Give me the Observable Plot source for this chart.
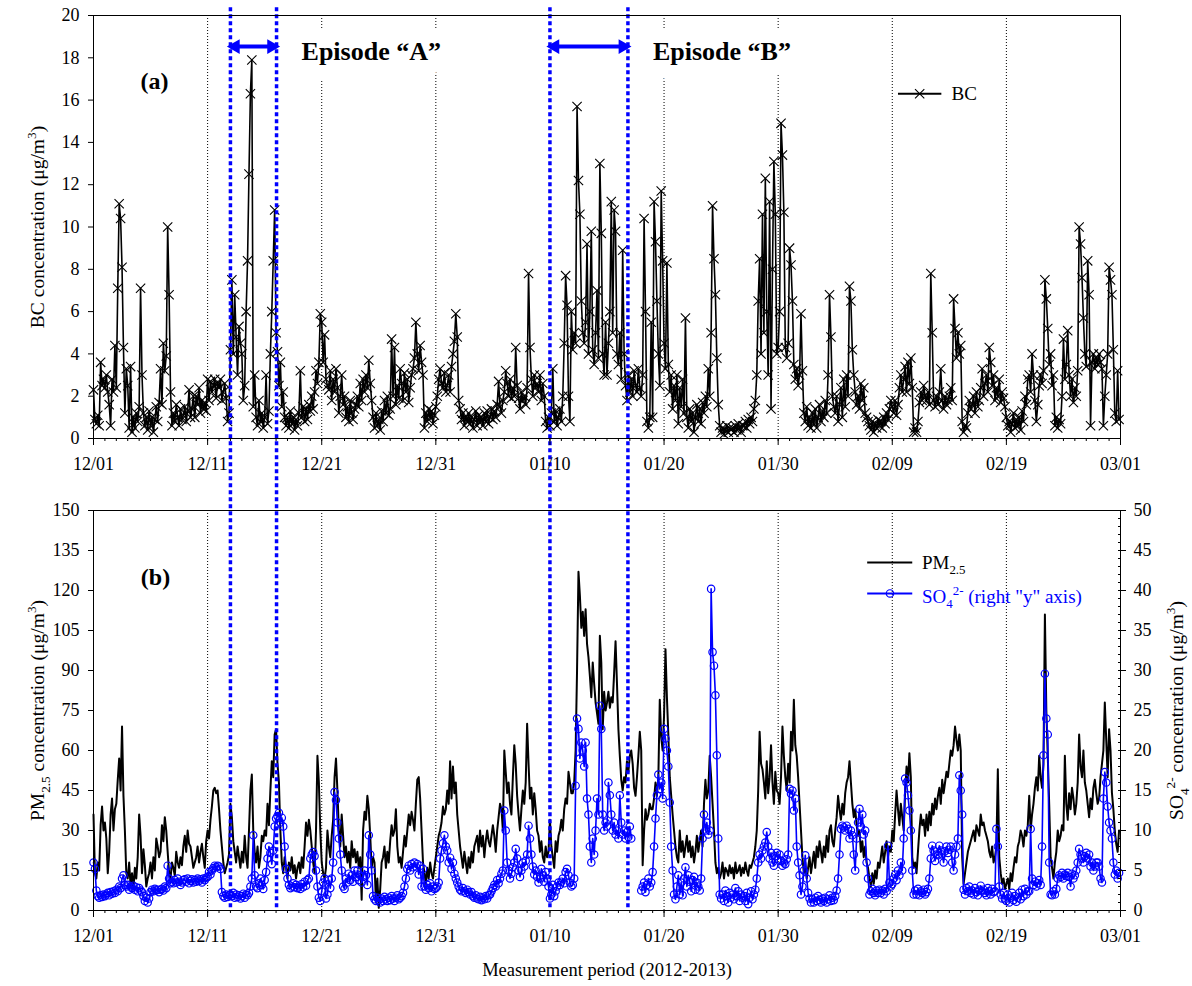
<!DOCTYPE html>
<html><head><meta charset="utf-8">
<script src="https://cdn.jsdelivr.net/npm/d3@7"></script>
<script src="https://cdn.jsdelivr.net/npm/@observablehq/plot@0.6"></script>
<style>
body{margin:0;background:#fff;}
#chart{position:relative;width:1192px;height:986px;background:#fff;}
#chart svg{position:absolute;left:0;overflow:visible;}
</style></head><body><div id="chart"></div>
<script>
// ---------- data ----------
const startDate = "2012-12-01";
const endDate = "2013-03-01";
const stepHours = 3; // one value every 3 h, 8 values per day (one line per day)
const xTickLabels = ["12/01","12/11","12/21","12/31","01/10","01/20","01/30","02/09","02/19","03/01"];
const gridLabels = ["12/11","12/21","12/31","01/20","01/30","02/09","02/19"];
const episodeNames = ["Episode \u201CA\u201D","Episode \u201CB\u201D"];
const episodeStarts = ["2012-12-13T00:00:00Z","2013-01-10T00:00:00Z"];
const episodeEnds = ["2012-12-17T01:00:00Z","2013-01-16T20:00:00Z"];
const bcTicks = [0,2,4,6,8,10,12,14,16,18,20];
const pmTicks = [0,15,30,45,60,75,90,105,120,135,150];
const so4Ticks = [0,5,10,15,20,25,30,35,40,45,50];

const bc = [
2.3,0.9,0.7,1.1,0.6,3.6,2.5,2.8,
2.4,3.0,2.2,1.6,0.6,2.8,2.2,4.4,
2.4,7.1,11.1,10.4,8.1,4.3,1.2,3.3,
2.5,0.5,3.4,0.3,1.0,0.5,1.2,0.8,
1.5,7.1,3.0,1.2,0.6,1.0,0.4,1.3,
0.6,1.0,0.3,0.9,1.5,0.8,1.7,3.3,
1.6,4.5,3.2,3.9,10.0,6.8,2.2,0.6,
1.2,0.8,1.6,1.0,0.6,1.4,0.9,1.1,
1.5,0.8,1.3,2.3,1.0,1.4,2.0,1.0,
2.0,1.6,2.4,1.2,1.8,1.4,1.7,1.3,
2.8,1.8,2.7,2.2,2.5,2.8,1.9,2.6,
2.4,2.8,1.8,2.2,2.6,1.9,0.8,1.2,
4.2,7.5,4.0,6.8,4.8,3.0,5.3,4.5,
4.0,1.8,2.5,6.0,8.4,12.5,16.3,17.9,
1.5,3.0,1.0,0.6,1.8,0.8,1.2,0.5,
1.0,3.0,0.7,1.3,4.0,6.0,8.4,10.8,
5.0,4.1,2.5,3.6,1.5,2.2,1.0,0.6,
1.0,0.5,1.3,0.7,1.0,0.4,0.9,0.6,
1.2,3.2,1.0,1.5,0.8,1.4,0.9,1.6,
1.3,2.0,1.4,2.2,3.2,2.6,3.6,5.9,
5.5,3.6,4.9,2.8,2.5,2.3,3.2,1.8,
2.8,2.2,3.3,2.4,1.2,2.0,3.0,1.6,
2.0,1.0,1.5,0.8,1.8,1.2,0.9,1.4,
1.6,2.0,1.5,2.6,1.8,2.8,2.2,3.0,
2.4,3.7,2.6,1.8,1.0,0.5,1.2,0.6,
0.9,0.4,1.3,0.8,1.8,1.2,2.0,1.1,
1.4,4.7,2.0,4.3,1.6,2.5,1.9,3.3,
2.6,1.8,3.1,2.2,2.8,1.7,2.4,3.0,
3.3,3.8,5.5,4.0,3.2,4.4,3.6,3.0,
0.5,1.2,0.8,1.4,1.0,1.3,0.7,1.1,
1.5,2.0,2.8,3.3,2.6,2.4,3.1,2.2,
2.5,3.0,2.2,3.4,4.0,4.6,5.9,4.8,
1.8,1.4,0.9,1.2,0.6,1.0,0.8,1.2,
0.7,1.0,0.5,0.9,1.3,0.6,1.1,0.8,
1.0,0.6,1.2,0.8,1.3,0.7,1.0,1.4,
0.9,1.3,1.0,1.6,2.7,1.5,1.2,1.8,
2.2,3.2,2.6,2.0,2.8,1.9,2.4,2.0,
4.3,2.5,1.9,1.4,2.2,1.8,2.0,1.6,
2.4,7.8,4.3,2.8,2.0,3.0,2.4,2.6,
2.2,3.0,1.8,2.6,2.0,0.8,0.5,1.0,
0.6,1.2,3.3,0.8,1.3,0.6,1.0,1.4,
0.8,2.0,4.5,7.7,6.3,2.0,0.8,6.0,
4.2,5.0,4.5,15.7,12.2,10.6,6.5,5.0,
4.5,5.5,9.2,4.0,6.0,9.8,4.2,3.5,
5.0,7.0,3.8,13.0,9.7,4.0,3.0,5.5,
3.0,4.5,6.0,11.2,5.0,10.8,9.8,4.0,
3.5,5.0,2.8,8.9,4.0,2.5,1.8,3.0,
2.2,2.8,2.0,3.2,2.5,2.2,3.3,2.4,
2.0,3.0,10.4,6.0,0.8,0.5,1.0,5.5,
1.0,11.2,9.3,6.5,4.0,2.5,11.7,8.4,
4.5,3.3,8.3,3.5,2.2,3.0,1.4,2.5,
1.8,3.0,0.7,2.4,1.5,2.8,1.2,5.7,
1.0,0.5,1.4,0.8,1.2,0.3,1.0,1.6,
0.8,1.4,0.7,1.7,1.2,2.0,1.5,3.3,
2.0,5.0,11.0,8.5,6.8,3.8,1.6,0.6,
0.3,0.5,0.2,0.4,0.6,0.3,0.5,0.4,
0.5,0.3,0.6,0.4,0.7,0.5,0.3,0.6,
0.6,0.8,0.5,0.9,0.7,1.0,0.8,1.4,
1.8,3.0,6.5,8.5,4.0,10.6,5.0,12.3,
6.0,3.0,11.2,1.4,8.0,13.1,10.6,4.0,
4.3,6.0,14.9,13.4,10.7,4.3,3.8,4.5,
9.0,8.2,6.5,3.5,2.8,3.3,2.5,3.0,
5.9,3.2,1.2,0.8,1.5,0.6,1.0,0.5,
1.2,0.7,1.4,0.5,1.0,1.6,0.8,1.3,
1.0,1.8,1.2,3.0,6.8,4.8,2.0,1.5,
1.2,2.0,0.8,1.6,2.4,1.0,2.8,1.5,
3.0,2.0,7.2,6.5,4.2,3.0,2.2,1.6,
2.0,1.4,2.6,1.8,2.4,1.2,1.0,0.8,
0.6,0.4,0.8,0.3,0.7,0.5,0.9,0.6,
0.8,0.5,1.0,0.7,1.2,0.9,1.4,1.8,
1.5,1.2,1.8,1.1,1.6,2.4,3.0,2.2,
2.8,3.4,2.2,3.6,2.6,3.8,2.4,0.3,
0.5,0.3,0.8,1.7,2.2,1.8,2.5,2.0,
1.8,2.2,1.6,7.8,5.0,1.8,1.5,2.0,
1.6,2.2,3.3,1.8,1.4,2.0,1.6,1.8,
2.0,2.4,1.8,6.6,5.2,3.8,5.0,4.0,
4.4,0.8,0.3,0.6,0.5,1.2,1.8,1.4,
1.6,2.0,1.2,2.2,1.5,1.8,2.4,3.3,
2.0,2.6,3.0,2.2,4.3,3.6,2.5,3.0,
1.8,2.4,2.0,2.8,1.7,2.2,1.9,1.5,
1.0,0.6,0.8,0.3,0.7,1.2,0.5,0.9,
0.6,1.0,0.4,1.3,0.8,2.0,1.6,2.8,
3.0,2.2,4.0,3.0,1.8,0.8,1.6,2.5,
3.0,2.6,3.2,7.5,6.6,5.2,3.5,4.0,
2.5,3.0,0.6,1.0,0.5,0.9,0.7,2.0,
4.7,2.8,3.5,5.1,3.0,2.0,2.8,1.7,
2.4,2.0,3.2,10.0,9.2,7.6,5.7,4.0,
3.4,8.4,6.8,0.6,3.6,4.0,3.3,3.8,
3.5,4.0,3.6,3.3,0.6,2.0,3.0,4.0,
8.1,7.5,6.8,4.2,1.2,0.8,3.2,0.9
];

const pm25 = [
36,14,12,18,15,32,39,30,
33,27,14,22,36,42,30,38,
40,49,57,45,69,43,30,14,
12,18,9,14,8,16,12,20,
36,28,14,23,17,9,12,14,
18,12,20,15,27,24,20,22,
32,26,35,30,22,14,12,18,
16,13,22,18,16,20,17,24,
28,22,30,25,24,20,16,18,
20,24,18,22,25,20,16,26,
30,27,34,39,45,46,44,45,
38,30,24,18,14,16,18,21,
40,35,26,22,18,24,20,16,
22,18,28,20,16,30,45,51,
30,22,18,24,16,20,28,26,
30,28,40,32,45,56,50,66,
68,55,48,30,18,14,20,16,
12,18,15,20,14,17,12,16,
18,14,20,16,24,33,28,34,
30,24,18,14,30,58,48,30,
18,14,12,16,30,24,20,28,
34,50,57,45,30,24,36,28,
20,24,18,22,16,26,20,23,
18,22,16,20,4,30,37,34,
43,38,28,16,20,18,3,12,
1,8,18,20,24,16,22,18,
26,32,28,30,38,24,18,20,
16,22,28,24,30,36,32,37,
34,30,40,49,50,42,30,18,
14,10,16,12,18,14,12,16,
20,24,28,30,33,39,36,38,
45,40,56,42,54,44,48,36,
30,24,20,16,22,18,14,20,
16,22,18,24,26,28,22,30,
24,28,20,26,30,26,24,28,
32,28,22,30,35,40,38,30,
60,52,44,48,40,36,50,62,
55,43,36,30,38,45,40,48,
70,55,42,46,36,44,38,30,
28,22,26,20,18,24,20,22,
34,24,20,16,26,22,28,30,
34,30,38,42,40,52,48,44,
44,48,60,90,127,118,106,112,
103,113,100,95,88,80,93,85,
78,74,70,103,93,68,82,75,
78,82,76,80,78,89,101,85,
68,58,49,45,50,48,56,52,
58,60,55,46,43,50,58,67,
60,17,30,38,34,36,40,38,
38,42,48,43,50,79,65,60,
73,98,80,66,50,43,36,30,
24,20,18,30,22,26,20,24,
28,22,26,20,24,18,22,28,
22,26,30,24,40,49,42,45,
58,50,40,30,18,14,16,12,
14,18,12,16,15,13,17,14,
16,12,18,14,15,17,13,16,
14,18,15,13,17,16,18,20,
24,30,45,67,55,53,48,42,
56,44,50,62,48,40,52,45,
44,40,50,69,58,50,45,55,
48,67,60,79,62,58,50,40,
30,20,14,18,12,16,20,14,
18,22,16,24,20,26,22,18,
24,20,28,22,30,32,26,24,
30,35,43,38,34,40,36,44,
48,50,56,48,40,35,38,32,
28,30,22,26,20,24,18,16,
12,9,14,10,15,12,18,16,
20,24,18,22,26,20,24,22,
30,26,36,45,38,32,40,35,
30,44,54,48,59,50,20,16,
18,14,22,30,36,32,34,28,
36,30,37,32,40,36,42,38,
43,46,40,49,44,48,52,50,
55,60,58,62,69,64,60,66,
60,20,10,14,18,22,24,26,
28,30,26,32,30,28,36,32,
33,30,28,26,22,20,24,18,
20,24,53,20,14,10,12,8,
10,12,8,14,11,16,20,18,
24,26,30,28,24,30,28,32,
43,30,36,40,46,50,45,58,
50,46,55,111,75,58,40,20,
16,12,18,22,30,26,28,32,
30,58,40,34,44,38,46,42,
36,40,48,66,54,50,60,48,
45,40,35,42,38,46,49,44,
40,42,50,55,60,78,64,50,
68,60,44,38,30,25,22,30
];

const so4 = [
6.0,5.2,2.5,1.8,1.6,1.9,1.7,2.0,
1.8,2.0,2.2,1.9,2.3,2.1,2.4,2.2,
2.6,2.4,3.0,2.8,4.0,4.4,3.2,3.0,
3.2,2.6,3.0,2.8,3.1,2.6,2.9,2.4,
2.8,2.5,2.3,1.8,1.2,1.6,1.0,1.5,
2.3,2.6,2.4,2.7,2.5,2.6,2.3,2.6,
2.7,2.5,3.0,2.8,5.6,4.0,3.4,3.6,
3.4,3.8,3.5,4.0,3.6,3.2,3.5,3.8,
3.9,3.6,4.0,3.4,3.7,3.9,3.5,3.8,
3.6,4.0,3.7,3.9,3.5,4.0,3.8,4.1,
4.2,4.8,4.5,5.0,5.3,5.6,5.4,5.6,
5.5,5.2,2.3,1.8,1.6,2.0,1.7,1.9,
2.0,1.8,2.2,1.6,2.0,1.7,1.9,1.5,
1.8,2.1,1.6,2.0,1.9,2.2,3.0,4.0,
9.4,4.4,3.0,2.8,3.4,4.0,3.2,2.7,
3.8,4.8,6.5,8.0,7.2,5.8,7.5,10.5,
11.5,11.8,12.2,11.0,11.6,10.5,8.0,5.2,
4.0,3.2,2.8,3.0,3.4,2.9,3.2,2.8,
3.0,2.7,3.3,2.9,3.6,3.1,3.8,4.0,
6.5,7.0,7.3,6.8,5.0,3.0,1.6,1.2,
2.4,3.5,4.0,1.5,2.0,3.8,2.8,4.0,
6.0,14.8,13.8,11.0,9.0,7.0,5.0,3.0,
2.7,4.0,3.5,4.6,3.8,4.4,3.6,5.0,
4.2,5.0,3.8,4.4,3.5,4.2,5.0,4.4,
3.2,9.4,7.0,5.0,1.8,1.4,1.2,1.6,
1.3,1.0,1.5,1.2,1.7,1.4,1.2,1.6,
1.3,1.8,1.5,1.2,1.6,1.9,1.4,1.6,
1.8,2.2,3.0,4.0,5.2,5.6,5.0,5.8,
5.4,6.0,5.5,5.8,4.5,5.6,3.0,5.2,
3.0,2.6,3.2,2.8,3.4,2.4,3.0,2.7,
2.8,3.0,3.5,6.5,7.5,8.4,9.4,8.0,
7.5,6.0,6.6,5.2,6.0,4.6,4.0,3.5,
3.0,2.6,2.4,2.8,2.4,2.2,2.6,2.3,
2.0,2.3,1.8,1.6,1.9,1.5,1.4,1.7,
1.3,1.6,1.4,1.8,1.5,1.9,2.0,2.4,
2.8,3.2,3.0,3.8,3.4,4.0,4.6,5.0,
12.5,10.0,6.0,5.0,4.0,4.6,5.4,6.0,
7.7,6.5,5.0,4.2,5.0,6.0,5.5,6.2,
7.0,10.6,9.0,7.0,5.5,4.5,5.0,4.2,
3.5,4.0,5.2,4.4,3.6,4.8,4.0,3.0,
1.5,2.0,3.2,1.8,2.4,3.0,3.5,3.2,
3.6,4.0,3.4,4.8,5.2,4.4,3.5,3.0,
3.2,4.0,15.6,24.0,22.7,19.0,21.0,20.0,
18.0,21.0,14.0,12.0,8.0,6.0,9.0,7.0,
10.0,14.0,12.0,25.6,22.7,12.0,10.0,11.0,
10.5,16.0,14.4,12.0,10.0,11.0,9.5,10.0,
9.0,14.4,11.0,9.5,10.0,9.0,9.8,9.2,
10.5,9.0,null,null,null,null,null,null,
2.5,3.0,3.5,2.3,3.2,4.0,3.0,3.5,
4.8,8.0,11.5,14.4,17.0,15.2,16.0,14.0,
22.7,21.5,20.0,18.0,13.5,8.0,5.0,2.0,
1.4,3.0,4.4,2.0,3.5,1.9,4.0,5.4,
3.0,4.4,3.6,2.4,3.8,4.2,2.6,3.5,
3.0,2.5,4.0,9.0,12.0,10.0,11.0,9.5,
10.0,40.2,32.3,30.6,26.9,19.4,9.0,2.0,
1.5,2.0,1.2,2.5,1.8,1.0,2.2,1.6,
2.0,1.4,2.8,1.8,2.4,1.2,2.0,1.6,
1.8,1.2,2.2,0.8,1.6,2.4,1.4,2.0,
2.6,4.0,6.0,7.0,6.5,7.5,8.0,8.5,
9.8,8.0,6.5,7.2,6.0,5.6,6.8,7.2,
6.4,7.0,6.2,5.6,6.0,5.8,6.4,7.0,
15.2,14.6,15.0,12.5,14.0,8.0,6.0,4.4,
2.0,3.0,5.0,6.9,4.0,2.2,1.5,1.0,
1.4,1.0,1.6,1.2,1.8,1.3,1.0,1.5,
1.2,1.6,1.0,1.4,1.9,1.2,1.6,1.3,
1.8,2.5,4.0,7.0,10.2,10.6,10.4,10.0,
10.6,10.2,9.0,10.0,9.4,7.0,5.0,9.0,
11.0,12.7,10.5,12.0,9.5,10.0,6.0,4.0,
2.0,2.4,2.7,2.2,1.9,2.5,2.2,2.6,
2.2,2.5,2.0,2.7,2.4,8.1,3.5,3.0,
3.3,4.0,4.5,3.8,5.0,4.4,6.0,5.0,
9.0,16.5,16.0,14.4,12.5,10.0,5.0,2.0,
2.5,2.0,2.7,1.9,2.4,2.2,2.6,2.0,
2.3,2.7,4.0,6.5,8.1,7.5,6.2,7.0,
6.9,8.1,7.5,7.0,6.0,7.4,8.0,7.2,
7.6,8.0,6.0,5.0,7.0,8.0,9.0,16.9,
15.0,12.0,2.6,2.0,2.8,2.4,3.0,2.2,
2.5,2.0,2.8,2.3,1.9,2.6,3.1,2.4,
2.6,2.2,1.9,2.8,2.4,2.0,2.7,2.3,
2.4,10.2,8.0,3.0,2.0,1.5,2.2,1.4,
1.2,2.0,1.0,1.6,2.2,1.3,1.8,1.1,
1.6,2.2,1.4,2.6,1.8,2.7,2.0,2.4,
2.4,10.2,4.0,3.2,3.6,3.0,3.4,3.8,
3.2,8.0,19.4,29.6,24.0,22.0,6.0,2.0,
1.9,2.4,2.0,2.7,4.0,4.4,4.2,4.7,
4.0,4.5,4.3,4.7,4.2,3.0,4.6,4.0,
4.4,5.0,6.0,7.7,7.0,6.5,6.0,6.8,
7.2,6.5,7.0,5.5,6.0,5.0,5.5,6.0,
6.0,5.5,4.0,3.5,14.0,17.3,16.0,13.0,
11.0,10.0,9.0,6.0,4.5,5.0,4.0,4.7
];

// ---------- build ----------
const FONT = "'Liberation Serif','Times New Roman',Times,serif";
const BLUE = "#0000ff";
const TITLE_FS = 19.5;
const t0 = Date.parse(startDate + "T00:00:00Z");
const t1 = Date.parse(endDate + "T00:00:00Z");
const timeAt = i => new Date(t0 + i * stepHours * 3600e3);
function parseLabel(s) {
  const [m, d] = s.split("/").map(Number);
  const y = m >= 12 ? 2012 : 2013;
  return new Date(Date.UTC(y, m - 1, d));
}
const majorDates = xTickLabels.map(parseLabel);
const labelMap = new Map(majorDates.map((d, i) => [+d, xTickLabels[i]]));
const gridDates = gridLabels.map(parseLabel);
const dayTicks = d3.utcDay.range(new Date(t0), new Date(t1 + 864e5));
const episodes = episodeNames.map((name, i) => ({name, start: new Date(episodeStarts[i]), end: new Date(episodeEnds[i])}));
const episodeBounds = episodes.flatMap(e => [e.start, e.end]);
const ratio = pmTicks[pmTicks.length - 1] / so4Ticks[so4Ticks.length - 1];

const bcData = bc.map((v, i) => ({t: timeAt(i), v}));
const pmData = pm25.map((v, i) => ({t: timeAt(i), v}));
const so4Data = so4.map((v, i) => ({t: timeAt(i), v: v == null ? null : v * ratio}));

const dayOff = d => new Date(t0 + d * 864e5);
const plotStyle = {fontFamily: FONT, fontSize: "18px", background: "white", overflow: "visible", color: "black"};

function xAxes() {
  return [
    Plot.axisX({ticks: dayTicks, tickSize: 3, tickFormat: () => "", label: null}),
    Plot.axisX({ticks: majorDates, tickSize: 7, tickPadding: 12, tickFormat: d => labelMap.get(+d), label: null, fontSize: 18})
  ];
}

const bcTitle = "BC concentration (\u03BCg/m3)";
const pmTitle = "PM2.5 concentration (\u03BCg/m3)";
const so4Title = "SO42- concentration (\u03BCg/m3)";
const pmLegend = "PM2.5";
const so4Legend = "SO42- (right \"y\" axis)";

const topPlot = Plot.plot({
  width: 1192, height: 480,
  marginLeft: 93, marginRight: 72, marginTop: 15, marginBottom: 42,
  style: plotStyle,
  x: {type: "utc", domain: [new Date(t0), new Date(t1)]},
  y: {domain: [0, 20]},
  marks: [
    Plot.ruleX(gridDates, {stroke: "black", strokeWidth: 1, strokeDasharray: "1,2"}),
    Plot.line(bcData, {x: "t", y: "v", stroke: "black", strokeWidth: 1.6}),
    Plot.dot(bcData, {x: "t", y: "v", symbol: "times", r: 4.3, stroke: "black", strokeWidth: 1.1}),
    Plot.text(episodes, {x: "end", y: 18.3, text: "name", dx: 25, textAnchor: "start", fontSize: 26, fontWeight: "bold", fill: "black", stroke: "white", strokeWidth: 30, strokeLinejoin: "round", paintOrder: "stroke"}),
    Plot.link(episodes, {x1: "start", x2: "end", y1: 18.53, y2: 18.53, stroke: BLUE, strokeWidth: 4}),
    Plot.dot(episodes, {x: "end", y: 18.53, symbol: "triangle", rotate: 90, r: 5.5, fill: BLUE, stroke: "none", dx: -5}),
    Plot.dot(episodes, {x: "start", y: 18.53, symbol: "triangle", rotate: -90, r: 5.5, fill: BLUE, stroke: "none", dx: 5}),
    Plot.ruleX(episodeBounds, {y1: -2, y2: 20.43, stroke: BLUE, strokeWidth: 3.5, strokeDasharray: "4,3"}),
    Plot.frame({stroke: "black", strokeWidth: 1}),
    ...xAxes(),
    Plot.axisY({ticks: bcTicks, tickSize: 5, tickPadding: 9, label: null, fontSize: 18}),
    Plot.text(["(a)"], {frameAnchor: "top-left", dx: 61, dy: 66, textAnchor: "middle", lineAnchor: "middle", fontSize: 24, fontWeight: "bold"}),
    Plot.link([0], {x1: dayOff(70.5), x2: dayOff(74.3), y1: 16.3, y2: 16.3, stroke: "black", strokeWidth: 2}),
    Plot.dot([0], {x: dayOff(72.4), y: 16.3, symbol: "times", r: 4.3, stroke: "black", strokeWidth: 1.1}),
    Plot.text(["BC"], {x: dayOff(75.2), y: 16.3, textAnchor: "start", fontSize: 19}),
    Plot.text([bcTitle], {frameAnchor: "left", dx: -56, rotate: -90, textAnchor: "middle", lineAnchor: "middle", fontSize: TITLE_FS})
  ]
});

const bottomPlot = Plot.plot({
  width: 1192, height: 506,
  marginLeft: 93, marginRight: 72, marginTop: 30, marginBottom: 76,
  style: plotStyle,
  x: {type: "utc", domain: [new Date(t0), new Date(t1)]},
  y: {domain: [0, 150]},
  marks: [
    Plot.ruleX(gridDates, {stroke: "black", strokeWidth: 1, strokeDasharray: "1,2"}),
    Plot.line(pmData, {x: "t", y: "v", stroke: "black", strokeWidth: 2}),
    Plot.line(so4Data, {x: "t", y: "v", stroke: BLUE, strokeWidth: 1.6}),
    Plot.dot(so4Data, {x: "t", y: "v", r: 3.7, stroke: BLUE, fill: "none", strokeWidth: 1.2}),
    Plot.ruleX(episodeBounds, {y1: 1, y2: 161.3, stroke: BLUE, strokeWidth: 3.5, strokeDasharray: "4,3"}),
    Plot.frame({stroke: "black", strokeWidth: 1}),
    ...xAxes(),
    Plot.axisY({ticks: pmTicks, tickSize: 5, tickPadding: 9, label: null, fontSize: 18}),
    Plot.axisY({anchor: "right", ticks: d3.range(0, 151, ratio), tickSize: -3, tickFormat: () => "", label: null}),
    Plot.axisY({anchor: "right", ticks: so4Ticks.map(v => v * ratio), tickSize: 5, tickPadding: 8, tickFormat: d => String(Math.round(d / ratio)), label: null, fontSize: 18}),
    Plot.text(["(b)"], {frameAnchor: "top-left", dx: 62, dy: 67, textAnchor: "middle", lineAnchor: "middle", fontSize: 24, fontWeight: "bold"}),
    Plot.link([0], {x1: dayOff(67.8), x2: dayOff(71.75), y1: 130.5, y2: 130.5, stroke: "black", strokeWidth: 2}),
    Plot.text([pmLegend], {x: dayOff(72.6), y: 130.5, textAnchor: "start", fontSize: 19}),
    Plot.link([0], {x1: dayOff(67.8), x2: dayOff(71.75), y1: 118.9, y2: 118.9, stroke: BLUE, strokeWidth: 2}),
    Plot.dot([0], {x: dayOff(69.8), y: 118.9, r: 3.7, stroke: BLUE, fill: "none", strokeWidth: 1.2}),
    Plot.text([so4Legend], {x: dayOff(72.6), y: 118.9, dy: 3, textAnchor: "start", fontSize: 19, fill: BLUE}),
    Plot.text([pmTitle], {frameAnchor: "left", dx: -56, rotate: -90, textAnchor: "middle", lineAnchor: "middle", fontSize: TITLE_FS}),
    Plot.text([so4Title], {frameAnchor: "right", dx: 56, rotate: -90, textAnchor: "middle", lineAnchor: "middle", fontSize: TITLE_FS}),
    Plot.text(["Measurement period (2012-2013)"], {frameAnchor: "bottom", dy: 60, textAnchor: "middle", lineAnchor: "middle", fontSize: 18.5})
  ]
});

topPlot.style.top = "0px";
bottomPlot.style.top = "480px";
const chartEl = document.getElementById("chart");
chartEl.appendChild(topPlot);
chartEl.appendChild(bottomPlot);

// sub/superscripts in real text
function rich(svg, plain, parts, fs) {
  svg.querySelectorAll("text").forEach(t => {
    if (t.textContent !== plain) return;
    while (t.firstChild) t.removeChild(t.firstChild);
    let shift = 0;
    for (const [str, kind] of parts) {
      const ts = document.createElementNS("http://www.w3.org/2000/svg", "tspan");
      const target = kind === "sub" ? 0.3 * fs : kind === "sup" ? -0.42 * fs : 0;
      ts.setAttribute("dy", target - shift);
      shift = target;
      if (kind) ts.setAttribute("font-size", fs * 0.68);
      ts.textContent = str;
      t.appendChild(ts);
    }
  });
}
const unit = [[" concentration (\u03BCg/m", ""], ["3", "sup"], [")", ""]];
rich(topPlot, bcTitle, [["BC", ""], ...unit], TITLE_FS);
rich(bottomPlot, pmTitle, [["PM", ""], ["2.5", "sub"], ...unit], TITLE_FS);
rich(bottomPlot, so4Title, [["SO", ""], ["4", "sub"], ["2-", "sup"], ...unit], TITLE_FS);
rich(bottomPlot, pmLegend, [["PM", ""], ["2.5", "sub"]], 19);
rich(bottomPlot, so4Legend, [["SO", ""], ["4", "sub"], ["2-", "sup"], [" (right \"y\" axis)", ""]], 19);
</script>
</body></html>
